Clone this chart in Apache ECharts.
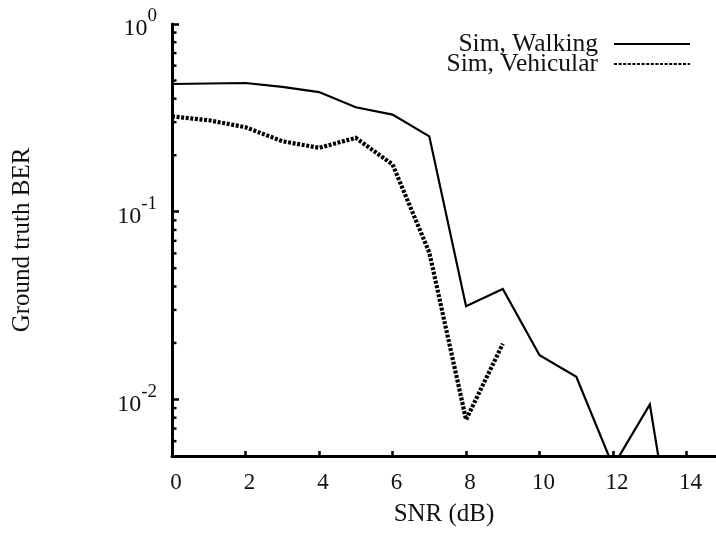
<!DOCTYPE html>
<html>
<head>
<meta charset="utf-8">
<script src="https://cdn.jsdelivr.net/npm/echarts@6/dist/echarts.min.js"></script>
<style>
  html, body { margin: 0; padding: 0; background: #fff; }
  #chart { width: 716px; height: 536px; }
</style>
</head>
<body>
<div id="chart"></div>
<script>
// SNR points (dB)
const snr = [0, 1, 2, 3, 4, 5, 6, 7, 8, 9, 10, 11, 12, 13, 14];
// Ground-truth bit error rate per SNR
const walking = [0.479, 0.482, 0.485, 0.462, 0.434, 0.360, 0.329, 0.252, 0.0314, 0.0388, 0.0172, 0.0132, 0.0044, 0.0094, 0.0006];
const vehicular = [0.322, 0.307, 0.282, 0.2375, 0.219, 0.2475, 0.1786, 0.0607, 0.0078, 0.0198];
// x-axis tick labels
const xTickLabels = [0, 2, 4, 6, 8, 10, 12, 14];
// minor ticks on the log BER axis
const yMinorTicks = [0.006, 0.007, 0.008, 0.009,
  0.02, 0.03, 0.04, 0.05, 0.06, 0.07, 0.08, 0.09,
  0.2, 0.3, 0.4, 0.5, 0.6, 0.7, 0.8, 0.9];

const FONT = "'Liberation Serif', 'Times New Roman', serif";
const INK = '#111';

function pairs(xs, ys) {
  return ys.map((y, i) => [xs[i], y]);
}

const chart = echarts.init(document.getElementById('chart'), null, { renderer: 'canvas' });

chart.setOption({
  backgroundColor: '#fff',
  animation: false,
  grid: { left: 172, right: 0, top: 24, bottom: 80, containLabel: false },
  legend: {
    data: ['Sim, Walking', 'Sim, Vehicular'],
    orient: 'vertical',
    right: 20,
    top: 26,
    align: 'right',
    itemWidth: 76,
    itemHeight: 14,
    itemGap: -6,
    selectedMode: false,
    itemStyle: { opacity: 0 },
    textStyle: {
      fontFamily: FONT, fontSize: 25.5, color: INK,
      padding: [0, 11, 0, 0]
    }
  },
  xAxis: {
    type: 'value',
    min: 0,
    max: 14.8,
    interval: 2,
    name: 'SNR (dB)',
    nameLocation: 'middle',
    nameGap: 46,
    nameTextStyle: { fontFamily: FONT, fontSize: 25, color: INK },
    axisLine: { onZero: false, lineStyle: { color: '#000', width: 3 } },
    axisTick: { inside: true, length: 5, lineStyle: { color: '#000', width: 2.5 } },
    splitLine: { show: false },
    axisLabel: {
      fontFamily: FONT, fontSize: 23, color: INK, margin: 15,
      padding: [0, 0, 0, 8],
      showMaxLabel: false,
      formatter: v => (xTickLabels.indexOf(v) >= 0 ? String(v) : '')
    }
  },
  yAxis: {
    type: 'log',
    logBase: 10,
    min: 0.005,
    max: 1,
    name: 'Ground truth BER',
    nameLocation: 'middle',
    nameGap: 137,
    nameTextStyle: { fontFamily: FONT, fontSize: 25, color: INK },
    axisLine: { show: true, lineStyle: { color: '#000', width: 3 } },
    axisTick: { show: true, inside: true, length: 7, lineStyle: { color: '#000', width: 2.5 } },
    splitLine: { show: false },
    axisLabel: {
      margin: 15,
      formatter: function (v) {
        const l = Math.log10(v);
        const e = Math.round(l);
        if (Math.abs(l - e) > 1e-6) return '';
        return '{b|10}{s|' + e + '}';
      },
      rich: {
        b: { fontFamily: FONT, fontSize: 24, color: INK, lineHeight: 34, verticalAlign: 'bottom' },
        s: { fontFamily: FONT, fontSize: 19, color: INK, lineHeight: 34, verticalAlign: 'top' }
      }
    }
  },
  series: [
    {
      name: 'Sim, Walking',
      type: 'line',
      data: pairs(snr, walking),
      symbol: 'none',
      lineStyle: { color: '#000', width: 2.2, join: 'miter' },
      itemStyle: { color: '#000' },
      z: 3
    },
    {
      name: 'Sim, Vehicular',
      type: 'line',
      data: pairs(snr, vehicular),
      symbol: 'none',
      lineStyle: { color: '#000', width: 4.2, type: [3, 1.6], join: 'miter' },
      itemStyle: { color: '#000' },
      z: 3
    },
    {
      // minor tick marks along the log axis
      type: 'custom',
      coordinateSystem: 'cartesian2d',
      silent: true,
      clip: false,
      data: yMinorTicks.map(v => [0, v]),
      renderItem: function (params, api) {
        const p = api.coord([0, api.value(1)]);
        return {
          type: 'line',
          shape: { x1: p[0], y1: p[1], x2: p[0] + 4.5, y2: p[1] },
          style: { stroke: '#000', lineWidth: 2.5 }
        };
      },
      z: 5
    }
  ]
});
</script>
</body>
</html>
